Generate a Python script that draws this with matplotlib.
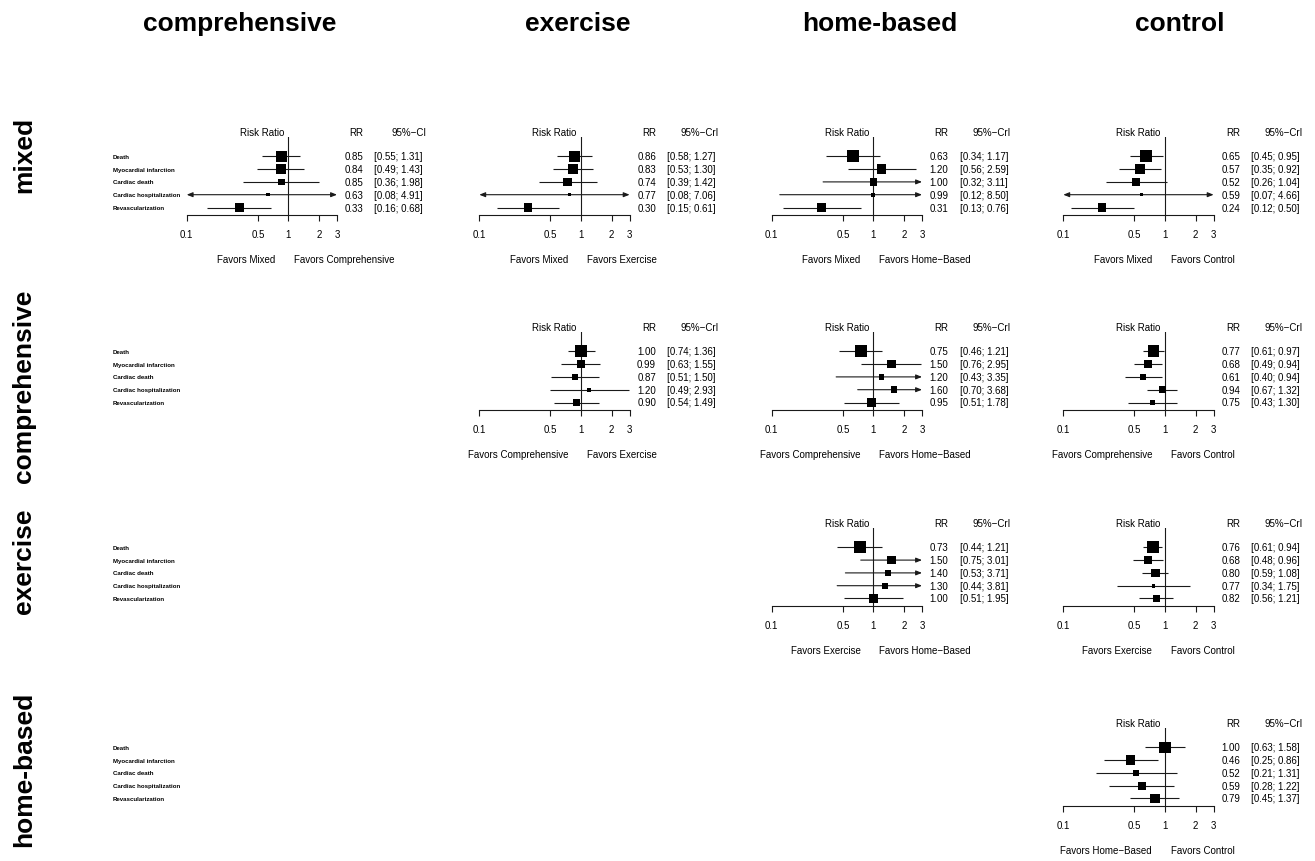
import numpy as np
import matplotlib
matplotlib.use("Agg")
import matplotlib.pyplot as plt

plt.rcParams['font.family'] = ['Liberation Sans', 'DejaVu Sans']

W, H = 1315, 862

row_names = ['mixed', 'comprehensive', 'exercise', 'home-based']
col_names = ['comprehensive', 'exercise', 'home-based', 'control']
outcomes = ['Death', 'Myocardial infarction', 'Cardiac death',
            'Cardiac hospitalization', 'Revascularization']

# labels under each panel: "Favors <row>"  "Favors <col>"
row_favors = ['Mixed', 'Comprehensive', 'Exercise', 'Home\u2212Based']
col_favors = ['Comprehensive', 'Exercise', 'Home\u2212Based', 'Control']

# mixed vs ...
mix_comp_rr = [0.85, 0.84, 0.85, 0.63, 0.33]
mix_comp_lo = [0.55, 0.49, 0.36, 0.08, 0.16]
mix_comp_hi = [1.31, 1.43, 1.98, 4.91, 0.68]
mix_comp_w = [10, 9, 6, 3, 8]

mix_exer_rr = [0.86, 0.83, 0.74, 0.77, 0.30]
mix_exer_lo = [0.58, 0.53, 0.39, 0.08, 0.15]
mix_exer_hi = [1.27, 1.30, 1.42, 7.06, 0.61]
mix_exer_w = [10, 9, 8, 3, 8]

mix_home_rr = [0.63, 1.20, 1.00, 0.99, 0.31]
mix_home_lo = [0.34, 0.56, 0.32, 0.12, 0.13]
mix_home_hi = [1.17, 2.59, 3.11, 8.50, 0.76]
mix_home_w = [11, 9, 7, 4, 8]

mix_ctrl_rr = [0.65, 0.57, 0.52, 0.59, 0.24]
mix_ctrl_lo = [0.45, 0.35, 0.26, 0.07, 0.12]
mix_ctrl_hi = [0.95, 0.92, 1.04, 4.66, 0.50]
mix_ctrl_w = [11, 9, 7, 3, 8]

# comprehensive vs ...
comp_exer_rr = [1.00, 0.99, 0.87, 1.20, 0.90]
comp_exer_lo = [0.74, 0.63, 0.51, 0.49, 0.54]
comp_exer_hi = [1.36, 1.55, 1.50, 2.93, 1.49]
comp_exer_w = [11, 7.5, 5.5, 4, 7]

comp_home_rr = [0.75, 1.50, 1.20, 1.60, 0.95]
comp_home_lo = [0.46, 0.76, 0.43, 0.70, 0.51]
comp_home_hi = [1.21, 2.95, 3.35, 3.68, 1.78]
comp_home_w = [11, 8, 5.5, 6, 8.5]

comp_ctrl_rr = [0.77, 0.68, 0.61, 0.94, 0.75]
comp_ctrl_lo = [0.61, 0.49, 0.40, 0.67, 0.43]
comp_ctrl_hi = [0.97, 0.94, 0.94, 1.32, 1.30]
comp_ctrl_w = [11, 8, 6, 7, 5]

# exercise vs ...
exer_home_rr = [0.73, 1.50, 1.40, 1.30, 1.00]
exer_home_lo = [0.44, 0.75, 0.53, 0.44, 0.51]
exer_home_hi = [1.21, 3.01, 3.71, 3.81, 1.95]
exer_home_w = [11, 8, 5.5, 5.5, 8]

exer_ctrl_rr = [0.76, 0.68, 0.80, 0.77, 0.82]
exer_ctrl_lo = [0.61, 0.48, 0.59, 0.34, 0.56]
exer_ctrl_hi = [0.94, 0.96, 1.08, 1.75, 1.21]
exer_ctrl_w = [11, 7, 8, 3.5, 6]

# home-based vs control
home_ctrl_rr = [1.00, 0.46, 0.52, 0.59, 0.79]
home_ctrl_lo = [0.63, 0.25, 0.21, 0.28, 0.45]
home_ctrl_hi = [1.58, 0.86, 1.31, 1.22, 1.37]
home_ctrl_w = [10.5, 8.5, 6, 7.5, 9]

panels = [
    (0, 0, mix_comp_rr, mix_comp_lo, mix_comp_hi, mix_comp_w),
    (0, 1, mix_exer_rr, mix_exer_lo, mix_exer_hi, mix_exer_w),
    (0, 2, mix_home_rr, mix_home_lo, mix_home_hi, mix_home_w),
    (0, 3, mix_ctrl_rr, mix_ctrl_lo, mix_ctrl_hi, mix_ctrl_w),
    (1, 1, comp_exer_rr, comp_exer_lo, comp_exer_hi, comp_exer_w),
    (1, 2, comp_home_rr, comp_home_lo, comp_home_hi, comp_home_w),
    (1, 3, comp_ctrl_rr, comp_ctrl_lo, comp_ctrl_hi, comp_ctrl_w),
    (2, 2, exer_home_rr, exer_home_lo, exer_home_hi, exer_home_w),
    (2, 3, exer_ctrl_rr, exer_ctrl_lo, exer_ctrl_hi, exer_ctrl_w),
    (3, 3, home_ctrl_rr, home_ctrl_lo, home_ctrl_hi, home_ctrl_w),
]

ticks = [0.1, 0.5, 1, 2, 3]
tick_labels = ['0.1', '0.5', '1', '2', '3']
xmin, xmax = 0.1, 3

# layout (pixels)
col_x0 = [186.7, 479.3, 771.7, 1063.3]
ax_w = 150.3
row_y0 = [157.3, 352.3, 548.3, 748.3]   # y of first outcome row
step = 12.8
top_rows, bot_rows = 1.48, 0.59

fig = plt.figure(figsize=(W / 100, H / 100), dpi=100)
fs = 7
lc = '#1a1a1a'


def make_axes(r, c):
    top = row_y0[r] - top_rows * step
    bot = row_y0[r] + (4 + bot_rows) * step
    ax = fig.add_axes([col_x0[c] / W, 1 - bot / H, ax_w / W, (bot - top) / H])
    ax.set_xscale('log')
    ax.set_xlim(xmin, xmax)
    ax.set_ylim(4 + bot_rows, -top_rows)
    ax.patch.set_alpha(0)
    return ax


label_axes = {}
for r in range(4):
    label_axes[r] = make_axes(r, 0)
    label_axes[r].axis('off')
    for i, name in enumerate(outcomes):
        label_axes[r].annotate(name, xy=(xmin, i), xytext=(113 - col_x0[0], 0),
                               textcoords='offset pixels', ha='left', va='center',
                               fontsize=4.4, fontweight='bold', annotation_clip=False)

for r, c, rr, lo, hi, w in panels:
    ax = make_axes(r, c)
    for s in ['top', 'left', 'right']:
        ax.spines[s].set_visible(False)
    ax.spines['bottom'].set_linewidth(0.8)
    ax.spines['bottom'].set_color(lc)
    ax.set_yticks([])
    ax.set_xticks(ticks)
    ax.set_xticklabels(tick_labels)
    ax.minorticks_off()
    ax.tick_params(axis='x', direction='out', length=4.5, width=0.8, color=lc,
                   pad=5.5, labelsize=fs)
    ax.axvline(1, color=lc, lw=0.8)

    for i in range(5):
        a = max(lo[i], xmin)
        b = min(hi[i], xmax)
        left = lo[i] < xmin
        right = hi[i] > xmax
        if left and right:
            st = '<|-|>'
        elif right:
            st = '-|>'
        elif left:
            st = '<|-'
        else:
            st = '-'
        if st == '-':
            ax.plot([a, b], [i, i], color=lc, lw=0.8, solid_capstyle='butt')
        else:
            ax.annotate('', xy=(b, i), xytext=(a, i), annotation_clip=False,
                        arrowprops=dict(arrowstyle=st + ',head_length=0.35,head_width=0.14',
                                        color=lc, lw=0.8, shrinkA=0, shrinkB=0,
                                        mutation_scale=10))
    sizes = (np.array(w) * 0.78) ** 2
    ax.scatter(rr, range(5), s=sizes, marker='s', color='black', zorder=3,
               linewidths=0, clip_on=False)

    # headers
    ax.text(np.sqrt(xmin * xmax), -1.91, 'Risk Ratio', ha='center', va='center',
            fontsize=fs)
    ax.annotate('RR', xy=(xmax, -1.91), xytext=(26.5, 0), textcoords='offset pixels',
                ha='right', va='center', fontsize=fs, annotation_clip=False)
    ci_head = '95%\u2212CI' if (r, c) == (0, 0) else '95%\u2212CrI'
    ax.annotate(ci_head, xy=(xmax, -1.91), xytext=(89, 0), textcoords='offset pixels',
                ha='right', va='center', fontsize=fs, annotation_clip=False)
    for i in range(5):
        ax.annotate('%.2f' % rr[i], xy=(xmax, i), xytext=(26.5, 0),
                    textcoords='offset pixels', ha='right', va='center',
                    fontsize=fs, annotation_clip=False)
        ax.annotate('[%.2f; %.2f]' % (lo[i], hi[i]), xy=(xmax, i), xytext=(37.5, 0),
                    textcoords='offset pixels', ha='left', va='center',
                    fontsize=fs, annotation_clip=False)

    # favors labels
    ax.annotate('Favors ' + row_favors[r], xy=(1, 0), xycoords=('data', 'axes fraction'),
                xytext=(-13, -44), textcoords='offset pixels', ha='right', va='center',
                fontsize=fs, annotation_clip=False)
    ax.annotate('Favors ' + col_favors[c], xy=(1, 0), xycoords=('data', 'axes fraction'),
                xytext=(6, -44), textcoords='offset pixels', ha='left', va='center',
                fontsize=fs, annotation_clip=False)

# column titles
col_title_x = [240, 578, 880, 1180]
for x, name in zip(col_title_x, col_names):
    fig.text(x / W, 1 - 31 / H, name, ha='center', va='baseline', fontsize=19,
             fontweight='bold')

# row titles
row_title_y = [155, 386, 561, 769]
for y, name in zip(row_title_y, row_names):
    fig.text(31 / W, 1 - y / H, name, ha='center', va='baseline', rotation=90,
             rotation_mode='anchor', fontsize=19, fontweight='bold')

fig.savefig('out.png', dpi=100)
